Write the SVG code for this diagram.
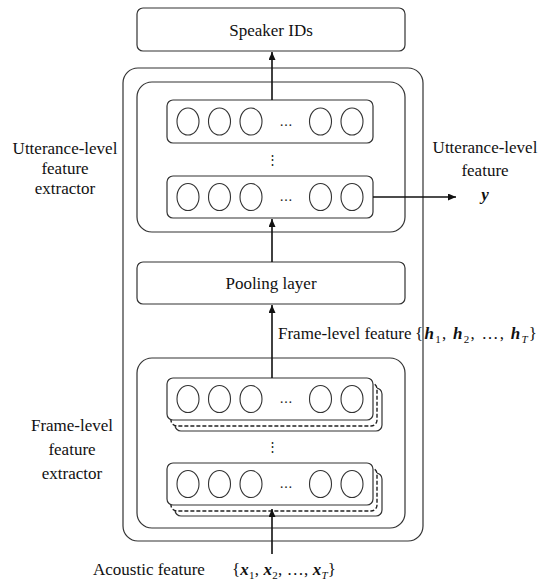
<svg xmlns="http://www.w3.org/2000/svg" width="541" height="581" viewBox="0 0 541 581">
  <style>
    .box { fill: #fff; stroke: #333; stroke-width: 1.2; }
    .dash { fill: #fff; stroke: #222; stroke-width: 1.4; stroke-dasharray: 4 2; }
    .unit { fill: #fff; stroke: #333; stroke-width: 1.1; }
    .lbl { font-family: "Liberation Serif", "Times New Roman", serif; font-size: 17px; fill: #111; }
    .mid { text-anchor: middle; }
    .math { font-weight: bold; font-style: italic; }
    .sub { font-size: 11px; }
    .wire { fill: none; stroke: #111; stroke-width: 1.6; }
    .dots { font-family: "DejaVu Serif", serif; font-size: 13px; fill: #222; text-anchor: middle; }
  </style>
  <defs>
    <marker id="arrow" markerUnits="userSpaceOnUse" markerWidth="9" markerHeight="8" refX="8" refY="3.5" orient="auto">
      <path d="M0,0 L8,3.5 L0,7 z" fill="#111"/>
    </marker>
    <!-- a row of units inside a layer box, placed at the row's centre line -->
    <g id="units">
      <ellipse class="unit" cx="188" cy="0" rx="11" ry="13.5"/>
      <ellipse class="unit" cx="219.5" cy="0" rx="11" ry="13.5"/>
      <ellipse class="unit" cx="251" cy="0" rx="11" ry="13.5"/>
      <text class="dots" x="286" y="4">…</text>
      <ellipse class="unit" cx="320.5" cy="0" rx="11" ry="13.5"/>
      <ellipse class="unit" cx="352" cy="0" rx="11" ry="13.5"/>
    </g>
  </defs>

  <rect width="541" height="581" fill="#fff"/>

  <!-- outer model frame -->
  <g id="model">
    <rect class="box" x="123" y="68" width="300" height="473" rx="15"/>
  </g>

  <g id="speaker-ids">
    <rect class="box" x="137" y="8" width="268" height="43" rx="6"/>
    <text class="lbl mid" x="271" y="36">Speaker IDs</text>
  </g>

  <!-- utterance-level feature extractor -->
  <g id="utterance-extractor">
    <rect class="box" x="137" y="82" width="268" height="150" rx="15"/>
    <g id="utt-layer-1">
      <rect class="box" x="167" y="100" width="206" height="43" rx="6"/>
      <use href="#units" y="121.5"/>
    </g>
    <text class="dots" x="272" y="164">⋮</text>
    <g id="utt-layer-2">
      <rect class="box" x="167" y="176" width="206" height="42" rx="6"/>
      <use href="#units" y="197"/>
    </g>
  </g>

  <g id="pooling">
    <rect class="box" x="137" y="262" width="268" height="42" rx="6"/>
    <text class="lbl mid" x="271" y="289">Pooling layer</text>
  </g>

  <!-- frame-level feature extractor -->
  <g id="frame-extractor">
    <rect class="box" x="137" y="358" width="268" height="170" rx="15"/>
    <g id="frame-layer-1">
      <rect class="box" x="175" y="388" width="207" height="43" rx="6"/>
      <rect class="dash" x="171" y="383" width="206" height="43" rx="6"/>
      <rect class="box" x="167" y="378" width="206" height="42" rx="6"/>
      <use href="#units" y="399"/>
    </g>
    <text class="dots" x="272" y="451">⋮</text>
    <g id="frame-layer-2">
      <rect class="box" x="175" y="473" width="207" height="43" rx="6"/>
      <rect class="dash" x="171" y="468" width="206" height="43" rx="6"/>
      <rect class="box" x="167" y="463" width="206" height="42" rx="6"/>
      <use href="#units" y="484"/>
    </g>
  </g>

  <!-- connectors -->
  <g id="connectors">
    <line class="wire" x1="272" y1="100" x2="272" y2="52" marker-end="url(#arrow)"/>
    <line class="wire" x1="272" y1="262" x2="272" y2="219" marker-end="url(#arrow)"/>
    <line class="wire" x1="272" y1="378" x2="272" y2="305" marker-end="url(#arrow)"/>
    <line class="wire" x1="272" y1="554" x2="272" y2="509" marker-end="url(#arrow)"/>
    <line class="wire" x1="373" y1="197" x2="456" y2="197" marker-end="url(#arrow)"/>
  </g>

  <!-- labels -->
  <g id="labels">
    <text class="lbl mid" x="65" y="154">Utterance-level</text>
    <text class="lbl mid" x="65" y="174">feature</text>
    <text class="lbl mid" x="65" y="194">extractor</text>

    <text class="lbl mid" x="485" y="153">Utterance-level</text>
    <text class="lbl mid" x="485" y="176">feature</text>
    <text class="lbl mid math" x="485" y="200">y</text>

    <text class="lbl" x="278" y="339">Frame-level feature</text>
    <text class="lbl" x="415" y="339" textLength="122" lengthAdjust="spacing">{<tspan class="math">h</tspan><tspan class="sub" dy="4">1</tspan><tspan dy="-4">, </tspan><tspan class="math">h</tspan><tspan class="sub" dy="4">2</tspan><tspan dy="-4">, …, </tspan><tspan class="math">h</tspan><tspan class="sub" font-style="italic" dy="4">T</tspan><tspan dy="-4">}</tspan></text>

    <text class="lbl mid" x="72" y="431">Frame-level</text>
    <text class="lbl mid" x="72" y="455">feature</text>
    <text class="lbl mid" x="72" y="479">extractor</text>

    <text class="lbl" x="93" y="575">Acoustic feature</text>
    <text class="lbl" x="232" y="575" textLength="104" lengthAdjust="spacing">{<tspan class="math">x</tspan><tspan class="sub" dy="4">1</tspan><tspan dy="-4">, </tspan><tspan class="math">x</tspan><tspan class="sub" dy="4">2</tspan><tspan dy="-4">, …, </tspan><tspan class="math">x</tspan><tspan class="sub" font-style="italic" dy="4">T</tspan><tspan dy="-4">}</tspan></text>
  </g>
</svg>
